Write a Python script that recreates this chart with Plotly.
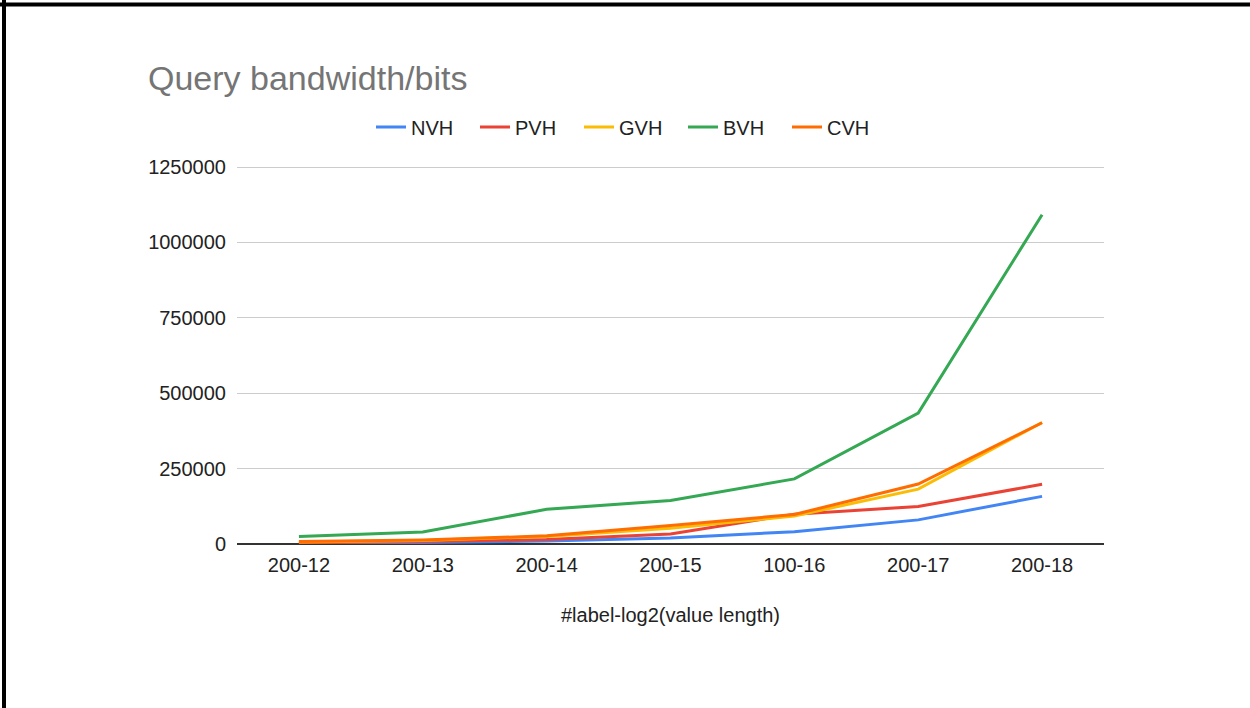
import plotly.graph_objects as go

categories = ["200-12", "200-13", "200-14", "200-15", "100-16", "200-17", "200-18"]
nvh = [2500, 5000, 10000, 20000, 41000, 80000, 158000]
pvh = [4000, 8000, 15000, 33000, 99000, 124000, 198000]
gvh = [6500, 12000, 25000, 52000, 93000, 182000, 403000]
bvh = [25000, 40000, 115000, 144000, 216000, 434000, 1092000]
cvh = [8000, 13000, 27000, 61000, 98000, 199000, 402000]

series_names = ["NVH", "PVH", "GVH", "BVH", "CVH"]
series_values = [nvh, pvh, gvh, bvh, cvh]
series_colors = ["#4285F4", "#EA4335", "#FBBC04", "#34A853", "#FF6D01"]
y_ticks = [0, 250000, 500000, 750000, 1000000, 1250000]

W, H = 1250, 708
L, R, T, B = 237, 146, 164, 164

FONT = "Arial, Liberation Sans, sans-serif"

fig = go.Figure()
for name, vals, col in zip(series_names, series_values, series_colors):
    fig.add_trace(go.Scatter(
        x=categories, y=vals, mode="lines", name=name,
        line=dict(color=col, width=3),
    ))

pw = W - L - R
ph = H - T - B

def px_to_paper_x(px):
    return (px - L) / pw

def px_to_paper_y(py):
    return (H - B - py) / ph

fig.update_layout(
    width=W, height=H,
    margin=dict(l=L, r=R, t=T, b=B, autoexpand=False),
    paper_bgcolor="white", plot_bgcolor="white",
    font=dict(family=FONT, size=20, color="#222222"),
    title=dict(
        text="Query bandwidth/bits",
        font=dict(family=FONT, size=34, color="#757575"),
        x=148 / W, xref="container", xanchor="left",
        y=1 - 78 / H, yref="container", yanchor="middle",
    ),
    legend=dict(
        orientation="h",
        x=0.5 + 6 / W, xref="container", xanchor="center",
        y=1 - 127 / H, yref="container", yanchor="middle",
        font=dict(family=FONT, size=20, color="#222222"),
        itemwidth=30,
        entrywidth=59,
    ),
    showlegend=True,
    xaxis=dict(
        type="category",
        range=[-0.5, len(categories) - 0.5],
        showgrid=False, zeroline=False, showline=False,
        ticks="", ticklabelstandoff=7,
        tickfont=dict(family=FONT, size=20, color="#222222"),
        title=dict(text="#label-log2(value length)",
                   font=dict(family=FONT, size=20, color="#222222"),
                   standoff=32),
    ),
    yaxis=dict(
        range=[0, 1260000],
        tickvals=y_ticks,
        ticktext=[str(v) for v in y_ticks],
        showgrid=True, gridcolor="#CCCCCC", gridwidth=1,
        zeroline=True, zerolinecolor="#333333", zerolinewidth=1.5,
        showline=False, ticks="", ticklabelstandoff=10,
        tickfont=dict(family=FONT, size=20, color="#222222"),
    ),
    shapes=[
        dict(type="line", xref="paper", yref="paper",
             x0=px_to_paper_x(0), x1=px_to_paper_x(W),
             y0=px_to_paper_y(4.5), y1=px_to_paper_y(4.5),
             line=dict(color="black", width=4), layer="above"),
        dict(type="line", xref="paper", yref="paper",
             x0=px_to_paper_x(4), x1=px_to_paper_x(4),
             y0=px_to_paper_y(0), y1=px_to_paper_y(H),
             line=dict(color="black", width=4), layer="above"),
    ],
)

fig.write_html("out.html")
